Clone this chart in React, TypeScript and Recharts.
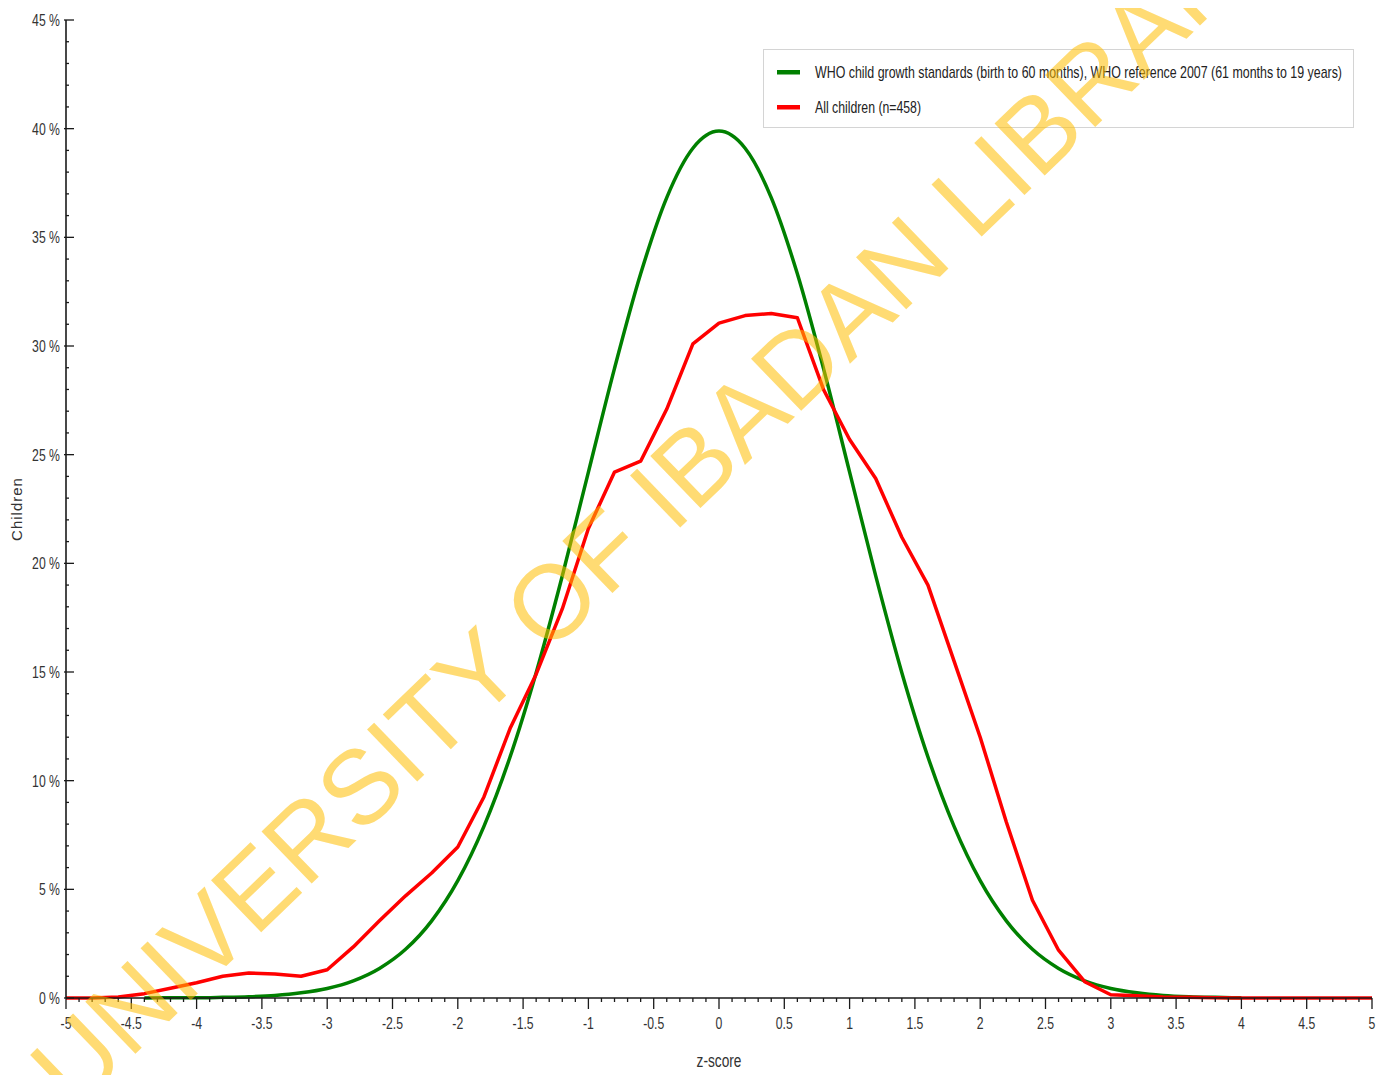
import React from 'react';
import { LineChart, Line, XAxis, YAxis, Legend } from 'recharts';

// z-score steps (0.2) the curves are sampled at
const zScores = [
  -5, -4.8, -4.6, -4.4, -4.2, -4, -3.8, -3.6, -3.4, -3.2, -3, -2.8, -2.6, -2.4, -2.2, -2, -1.8, -1.6, -1.4, -1.2, -1,
  -0.8, -0.6, -0.4, -0.2, 0, 0.2, 0.4, 0.6, 0.8, 1, 1.2, 1.4, 1.6, 1.8, 2, 2.2, 2.4, 2.6, 2.8, 3, 3.2, 3.4, 3.6, 3.8,
  4, 4.2, 4.4, 4.6, 4.8, 5,
];

// % of children, WHO reference curve
const whoStandard = [
  null, null, null, 0, 0.01, 0.01, 0.03, 0.06, 0.12, 0.24, 0.44, 0.79, 1.36, 2.24, 3.55, 5.4, 7.9, 11.09, 14.97, 19.42,
  24.2, 28.97, 33.32, 36.83, 39.1, 39.89, 39.1, 36.83, 33.32, 28.97, 24.2, 19.42, 14.97, 11.09, 7.9, 5.4, 3.55, 2.24,
  1.36, 0.79, 0.44, 0.24, 0.12, 0.06, 0.03, 0.01, null, null, null, null, null,
];

// % of children, survey sample
const allChildren = [
  0, 0, 0.05, 0.2, 0.45, 0.7, 1.0, 1.15, 1.1, 1.0, 1.3, 2.35, 3.55, 4.7, 5.75, 6.95, 9.25, 12.4, 14.9, 17.9, 21.6,
  24.2, 24.7, 27.1, 30.1, 31.05, 31.4, 31.5, 31.3, 28.0, 25.7, 23.9, 21.2, 19.0, 15.5, 12.0, 8.1, 4.5, 2.2, 0.75,
  0.15, 0.1, 0.05, 0.03, 0.01, 0, 0, 0, 0, 0, 0,
];

const seriesNames = [
  'WHO child growth standards (birth to 60 months), WHO reference 2007 (61 months to 19 years)',
  'All children (n=458)',
];
const seriesColors = ['#008000', '#ff0000'];

const xMajorTicks = [-5, -4.5, -4, -3.5, -3, -2.5, -2, -1.5, -1, -0.5, 0, 0.5, 1, 1.5, 2, 2.5, 3, 3.5, 4, 4.5, 5];
const yMajorTicks = [0, 5, 10, 15, 20, 25, 30, 35, 40, 45];

const data = zScores.map((z, i) => ({ z, who: whoStandard[i], all: allChildren[i] }));

const xTicks = Array.from({ length: 101 }, (_, i) => Math.round(i - 50) / 10);
const yTicks = Array.from({ length: 46 }, (_, i) => i);

const isMajorX = (v: number) => xMajorTicks.some((t) => Math.abs(t - v) < 1e-6);
const isMajorY = (v: number) => yMajorTicks.includes(v);

const AXIS = '#1a1a1a';
const FONT = '"Liberation Sans", Arial, sans-serif';
const NARROW = 0.72; // squeeze to imitate a narrow face

const BottomTick = (props: any) => {
  const { x, y, payload } = props;
  const major = isMajorX(payload.value);
  return (
    <g>
      <line x1={x} x2={x} y1={y} y2={y + (major ? 11 : 4)} stroke={AXIS} strokeWidth={1.3} />
      {major && (
        <text
          transform={`translate(${x},${y + 31}) scale(${NARROW},1)`}
          textAnchor="middle"
          fontSize={17}
          fill="#333"
          fontFamily={FONT}
        >
          {payload.value}
        </text>
      )}
    </g>
  );
};

const TopTick = (props: any) => {
  const { x, y, payload } = props;
  const major = isMajorX(payload.value);
  return <line x1={x} x2={x} y1={y} y2={y + (major ? 12 : 4)} stroke={AXIS} strokeWidth={1.3} />;
};

const LeftTick = (props: any) => {
  const { x, y, payload } = props;
  const major = isMajorY(payload.value);
  return (
    <g>
      <line x1={major ? x - 2 : x} x2={x + (major ? 8 : 3)} y1={y} y2={y} stroke={AXIS} strokeWidth={1.3} />
      {major && (
        <text
          transform={`translate(${x - 6},${y + 6}) scale(${NARROW},1)`}
          textAnchor="end"
          fontSize={17}
          fill="#333"
          fontFamily={FONT}
        >
          {payload.value} %
        </text>
      )}
    </g>
  );
};

const RightTick = (props: any) => {
  const { x, y, payload } = props;
  const major = isMajorY(payload.value);
  return <line x1={x + (major ? 2 : 0)} x2={x - (major ? 8 : 3)} y1={y} y2={y} stroke={AXIS} strokeWidth={1.3} />;
};

const ZLabel = (props: any) => {
  const { viewBox } = props;
  const cx = viewBox.x + viewBox.width / 2;
  return (
    <text
      transform={`translate(${cx},${viewBox.y + 69}) scale(${NARROW},1)`}
      textAnchor="middle"
      fontSize={19}
      fill="#333"
      fontFamily={FONT}
    >
      z-score
    </text>
  );
};

const legendTextWidths = [527, 106];

const LegendBox = () => (
  <div
    style={{
      width: 591,
      height: 79,
      boxSizing: 'border-box',
      border: '1px solid #d4d4d4',
      background: '#fff',
    }}
  >
    <svg width={589} height={77}>
      {seriesNames.map((name, i) => {
        const cy = 22 + i * 35;
        return (
          <g key={name}>
            <rect x={13} y={cy - 2} width={23} height={4.5} fill={seriesColors[i]} />
            <text
              x={51}
              y={cy + 6}
              fontSize={17}
              fill="#222"
              fontFamily={FONT}
              textLength={legendTextWidths[i]}
              lengthAdjust="spacingAndGlyphs"
            >
              {name}
            </text>
          </g>
        );
      })}
    </svg>
  </div>
);

export default function App() {
  return (
    <div style={{ position: 'relative', width: 1381, height: 1067 }}>
      <LineChart width={1381} height={1067} data={data} margin={{ top: 12, right: 17, bottom: 0, left: 0 }}>
        <XAxis
          xAxisId="x"
          dataKey="z"
          type="number"
          domain={[-5, 5]}
          ticks={xTicks}
          interval={0}
          height={77}
          tickSize={0}
          tickMargin={0}
          tick={<BottomTick />}
          axisLine={{ stroke: AXIS, strokeWidth: 1.6 }}
          label={<ZLabel />}
        />
        <XAxis
          xAxisId="xt"
          orientation="top"
          type="number"
          domain={[-5, 5]}
          ticks={xTicks}
          interval={0}
          height={0}
          tickSize={0}
          tickMargin={0}
          tick={<TopTick />}
          axisLine={{ stroke: AXIS, strokeWidth: 1.6 }}
        />
        <YAxis
          yAxisId="y"
          type="number"
          domain={[0, 45]}
          ticks={yTicks}
          interval={0}
          width={58}
          tickSize={0}
          tickMargin={0}
          tick={<LeftTick />}
          axisLine={{ stroke: AXIS, strokeWidth: 1.6 }}
          label={{
            value: 'Children',
            angle: -90,
            position: 'insideLeft',
            offset: 9,
            style: { textAnchor: 'middle', fontSize: 15, fill: '#333', fontFamily: FONT, letterSpacing: 1 },
          }}
        />
        <YAxis
          yAxisId="yr"
          orientation="right"
          type="number"
          domain={[0, 45]}
          ticks={yTicks}
          interval={0}
          width={0}
          tickSize={0}
          tickMargin={0}
          tick={<RightTick />}
          axisLine={{ stroke: AXIS, strokeWidth: 1.6 }}
        />
        <Legend
          layout="horizontal"
          verticalAlign="middle"
          align="center"
          content={<LegendBox />}
          wrapperStyle={{ top: 41, left: 755, width: 591, height: 79 }}
        />
        <Line
          xAxisId="x"
          yAxisId="y"
          name={seriesNames[0]}
          dataKey="who"
          type="monotone"
          stroke={seriesColors[0]}
          strokeWidth={3.5}
          dot={false}
          isAnimationActive={false}
        />
        <Line
          xAxisId="x"
          yAxisId="y"
          name={seriesNames[1]}
          dataKey="all"
          type="linear"
          stroke={seriesColors[1]}
          strokeWidth={3.5}
          strokeLinejoin="round"
          dot={false}
          isAnimationActive={false}
        />
      </LineChart>
      <svg
        width={1389}
        height={1075}
        style={{ position: 'absolute', left: -8, top: -8, pointerEvents: 'none' }}
      >
        <text
          x={686}
          y={522}
          textAnchor="middle"
          fontSize={105}
          fontFamily={FONT}
          fill="rgba(255, 190, 0, 0.55)"
          transform="rotate(-44 686 522)"
        >
          UNIVERSITY OF IBADAN LIBRARY
        </text>
      </svg>
    </div>
  );
}
